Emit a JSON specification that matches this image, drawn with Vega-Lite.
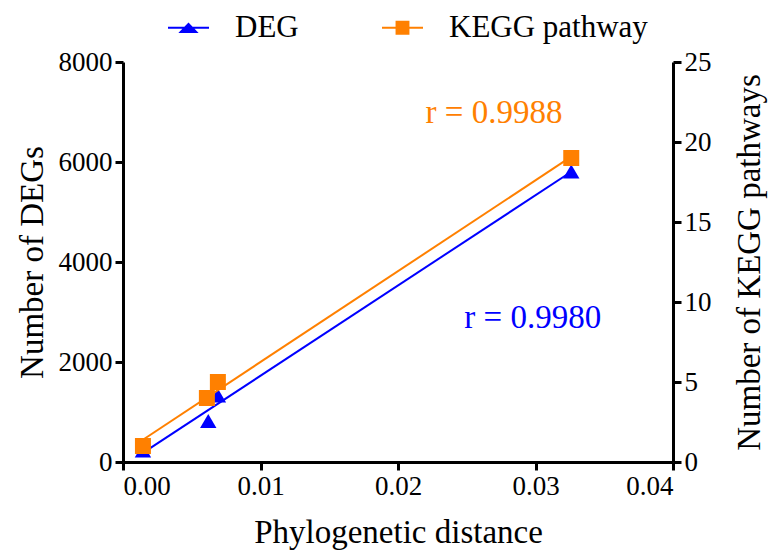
{
  "$schema": "https://vega.github.io/schema/vega-lite/v6.json",
  "width": 550,
  "height": 400,
  "autosize": {"type": "none"},
  "padding": {"left": 123, "top": 62, "right": 96, "bottom": 89},
  "background": "white",
  "config": {
    "font": "Liberation Serif",
    "view": {"stroke": null},
    "text": {"font": "Liberation Serif"},
    "axis": {
      "domainColor": "black", "domainWidth": 3,
      "tickColor": "black", "tickWidth": 3, "tickSize": 8,
      "labelColor": "black", "titleColor": "black",
      "labelFont": "Liberation Serif", "titleFont": "Liberation Serif",
      "labelFontSize": 27, "titleFontSize": 33, "titleFontWeight": "normal",
      "grid": false, "labelPadding": 3
    },
    "legend": {
      "orient": "none", "legendX": 44, "legendY": -56, "direction": "horizontal",
      "title": null, "labelFont": "Liberation Serif", "labelFontSize": 31, "labelColor": "black", "labelLimit": 400,
      "symbolSize": 1681, "symbolStrokeWidth": 2, "symbolOpacity": 1,
      "labelOffset": 25, "columnPadding": 79, "padding": 0
    }
  },
  "datasets": {
    "pts": [
      {"series": "DEG", "x": 0.00145, "y": 230},
      {"series": "DEG", "x": 0.0062, "y": 820},
      {"series": "DEG", "x": 0.0069, "y": 1330},
      {"series": "DEG", "x": 0.0326, "y": 5810},
      {"series": "KEGG pathway", "x": 0.00145, "y": 1},
      {"series": "KEGG pathway", "x": 0.0061, "y": 4},
      {"series": "KEGG pathway", "x": 0.0069, "y": 5},
      {"series": "KEGG pathway", "x": 0.0326, "y": 19}
    ]
  },
  "layer": [
    {
      "data": {"name": "pts"},
      "transform": [{"filter": "datum.series === 'DEG'"}],
      "encoding": {
        "x": {"field": "x", "type": "quantitative", "scale": {"domain": [0, 0.04], "nice": false},
              "axis": {"values": [0, 0.01, 0.02, 0.03, 0.04], "format": ".2f", "title": "Phylogenetic distance", "titlePadding": 17, "labelFont": "Liberation Serif", "labelFontSize": 27}},
        "y": {"field": "y", "type": "quantitative", "scale": {"domain": [0, 8000], "nice": false},
              "axis": {"values": [0, 2000, 4000, 6000, 8000], "format": "d", "title": "Number of DEGs", "titlePadding": 9, "labelFont": "Liberation Serif", "labelFontSize": 27}}
      },
      "layer": [
        {"transform": [{"regression": "y", "on": "x"}],
         "mark": {"type": "line", "color": "#0000ff", "strokeWidth": 2}},
        {"mark": {"type": "point", "shape": "triangle-up", "filled": true, "color": "#0000ff", "size": 270, "opacity": 1}},
        {"transform": [{"filter": "datum.y > 5000"}],
         "mark": {"type": "text", "color": "#0000ff", "fontSize": 33, "baseline": "alphabetic", "align": "center", "font": "Liberation Serif", "text": "r = 0.9980"},
         "encoding": {"x": {"datum": 0.0298}, "y": {"datum": 2680}}}
      ]
    },
    {
      "data": {"name": "pts"},
      "transform": [{"filter": "datum.series === 'KEGG pathway'"}],
      "encoding": {
        "x": {"field": "x", "type": "quantitative", "scale": {"domain": [0, 0.04], "nice": false}},
        "y": {"field": "y", "type": "quantitative", "scale": {"domain": [0, 25], "nice": false},
              "axis": {"orient": "right", "values": [0, 5, 10, 15, 20, 25], "format": "d", "title": "Number of KEGG pathways", "titleAngle": -90, "titleBaseline": "top", "titlePadding": 22, "labelFont": "Liberation Serif", "labelFontSize": 27}}
      },
      "layer": [
        {"transform": [{"regression": "y", "on": "x"}],
         "mark": {"type": "line", "color": "#ff8000", "strokeWidth": 2}},
        {"mark": {"type": "point", "shape": "square", "filled": true, "color": "#ff8000", "size": 256, "opacity": 1}},
        {"transform": [{"filter": "datum.y > 10"}],
         "mark": {"type": "text", "color": "#ff8000", "fontSize": 33, "baseline": "alphabetic", "align": "center", "font": "Liberation Serif", "text": "r = 0.9988"},
         "encoding": {"x": {"datum": 0.02698}, "y": {"datum": 21.2}}}
      ]
    },
    {
      "data": {"name": "pts"},
      "mark": {"type": "point", "filled": true, "opacity": 0},
      "encoding": {
        "fill": {"field": "series", "type": "nominal", "scale": {"domain": ["DEG", "KEGG pathway"], "range": ["#0000ff", "#ff8000"]}},
        "stroke": {"field": "series", "type": "nominal", "scale": {"domain": ["DEG", "KEGG pathway"], "range": ["#0000ff", "#ff8000"]}},
        "shape": {"field": "series", "type": "nominal", "scale": {"domain": ["DEG", "KEGG pathway"],
                  "range": ["M-1,0H1M-0.38,0.21L0,-0.19L0.38,0.21Z", "M-1,0H1M-0.29,-0.29H0.29V0.29H-0.29Z"]}}
      }
    }
  ],
  "resolve": {"scale": {"y": "independent"}}
}
